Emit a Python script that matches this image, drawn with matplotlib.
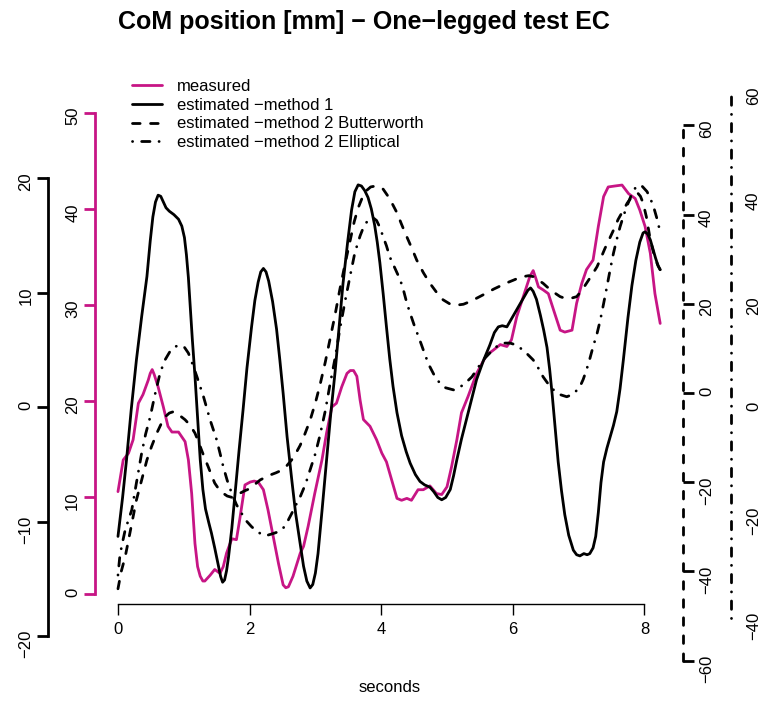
import matplotlib
matplotlib.use("Agg")
import matplotlib.pyplot as plt

plt.rcParams['font.family'] = ['Liberation Sans', 'DejaVu Sans']
plt.rcParams['lines.scale_dashes'] = False

# measured CoM position (left magenta axis, 0..50)
mag_t = [0.00, 0.08, 0.16, 0.23, 0.31, 0.38, 0.46, 0.49, 0.52, 0.55,
         0.61, 0.69, 0.76, 0.82, 0.92, 1.02, 1.07, 1.12, 1.17, 1.21,
         1.25, 1.29, 1.32, 1.40, 1.47, 1.55, 1.60, 1.65, 1.73, 1.80,
         1.85, 1.93, 2.01, 2.07, 2.13, 2.21, 2.28, 2.36, 2.44, 2.51,
         2.55, 2.59, 2.66, 2.77, 2.82, 2.89, 2.99, 3.10, 3.17, 3.25,
         3.32, 3.40, 3.48, 3.53, 3.58, 3.63, 3.68, 3.73, 3.83, 3.93,
         4.01, 4.08, 4.16, 4.24, 4.31, 4.39, 4.46, 4.56, 4.64, 4.74,
         4.84, 4.92, 5.00, 5.07, 5.15, 5.22, 5.32, 5.45, 5.60, 5.70,
         5.81, 5.91, 5.98, 6.06, 6.16, 6.26, 6.31, 6.35, 6.39, 6.46,
         6.54, 6.62, 6.72, 6.79, 6.90, 6.97, 7.05, 7.12, 7.22, 7.30,
         7.38, 7.45, 7.55, 7.66, 7.76, 7.86, 7.93, 8.01, 8.09, 8.16,
         8.24]
mag_v = [10.6, 13.9, 14.6, 16.0, 19.8, 20.7, 22.2, 22.9, 23.3, 22.8,
         21.5, 19.4, 17.4, 16.8, 16.8, 15.8, 13.9, 10.4, 5.2, 2.8,
         1.8, 1.3, 1.3, 1.9, 2.5, 2.1, 2.8, 4.2, 5.7, 5.6,
         7.7, 11.3, 11.6, 11.7, 11.6, 10.8, 8.7, 5.9, 3.1, 0.9,
         0.6, 0.7, 1.8, 4.2, 4.9, 7.0, 10.4, 13.9, 16.7, 19.4,
         19.8, 21.5, 22.9, 23.2, 23.2, 22.6, 20.1, 18.1, 17.4, 16.0,
         14.6, 13.7, 11.8, 9.9, 9.7, 9.9, 9.7, 10.8, 10.8, 11.2,
         10.4, 10.3, 11.1, 13.2, 16.0, 18.8, 20.5, 22.9, 24.8, 25.3,
         25.9, 25.7, 26.4, 28.8, 30.9, 33.0, 33.6, 32.8, 31.9, 31.6,
         31.2, 29.5, 27.4, 27.2, 27.4, 30.2, 32.3, 33.7, 34.7, 38.2,
         41.3, 42.3, 42.4, 42.5, 41.6, 41.1, 39.9, 38.2, 35.4, 31.2,
         28.1]

# estimated - method 1 (left black axis, -20..20)
m1_t = [0.00, 0.07, 0.13, 0.20, 0.28, 0.36, 0.44, 0.49, 0.53, 0.57,
        0.61, 0.65, 0.69, 0.73, 0.78, 0.85, 0.92, 0.97, 1.01, 1.04,
        1.07, 1.10, 1.13, 1.17, 1.21, 1.25, 1.29, 1.33, 1.38, 1.42,
        1.47, 1.52, 1.56, 1.59, 1.62, 1.65, 1.68, 1.73, 1.78, 1.84,
        1.90, 1.96, 2.03, 2.08, 2.13, 2.17, 2.21, 2.25, 2.29, 2.35,
        2.41, 2.46, 2.51, 2.57, 2.64, 2.70, 2.77, 2.82, 2.87, 2.92,
        2.96, 3.00, 3.04, 3.10, 3.17, 3.23, 3.30, 3.36, 3.42, 3.49,
        3.55, 3.60, 3.65, 3.70, 3.75, 3.80, 3.85, 3.90, 3.94, 3.98,
        4.03, 4.08, 4.13, 4.18, 4.24, 4.31, 4.38, 4.44, 4.52, 4.59,
        4.66, 4.74, 4.80, 4.86, 4.92, 4.98, 5.05, 5.10, 5.15, 5.22,
        5.30, 5.38, 5.45, 5.55, 5.65, 5.72, 5.78, 5.84, 5.91, 5.97,
        6.06, 6.16, 6.23, 6.27, 6.31, 6.36, 6.42, 6.47, 6.52, 6.56,
        6.60, 6.65, 6.69, 6.74, 6.79, 6.85, 6.92, 6.97, 7.02, 7.08,
        7.13, 7.17, 7.22, 7.26, 7.30, 7.34, 7.38, 7.43, 7.48, 7.53,
        7.58, 7.63, 7.68, 7.75, 7.81, 7.87, 7.93, 7.98, 8.01, 8.05,
        8.09, 8.13, 8.17, 8.21, 8.24]
m1_v = [-11.3, -7.9, -4.6, -0.3, 4.1, 7.9, 11.4, 14.5, 16.6, 17.9,
        18.5, 18.4, 17.9, 17.4, 17.1, 16.8, 16.4, 15.8, 14.8, 13.3,
        11.3, 8.6, 5.9, 2.7, -1.0, -4.6, -7.2, -8.9, -10.1, -11.0,
        -12.3, -13.7, -14.8, -15.3, -15.1, -14.3, -13.1, -10.6, -7.5, -3.8,
        -0.3, 3.4, 7.0, 9.3, 10.9, 11.8, 12.1, 11.8, 11.0, 9.2,
        6.8, 4.1, 1.2, -2.6, -6.3, -9.3, -12.0, -13.9, -15.2, -15.8,
        -15.5, -14.5, -12.8, -9.1, -4.6, -0.8, 3.1, 7.0, 10.8, 14.4,
        17.2, 18.8, 19.4, 19.3, 18.9, 18.3, 17.3, 15.9, 14.4, 12.6,
        9.9, 7.0, 4.2, 1.8, -0.5, -2.5, -3.9, -4.9, -5.9, -6.5,
        -6.8, -7.0, -7.4, -7.9, -8.1, -7.9, -7.2, -6.0, -4.6, -2.8,
        -1.0, 0.8, 2.4, 4.0, 5.4, 6.5, 7.0, 7.1, 7.0, 7.6,
        8.5, 9.5, 10.2, 10.4, 10.1, 9.4, 8.0, 6.7, 5.2, 3.3,
        1.0, -2.2, -4.8, -7.3, -9.4, -11.2, -12.5, -12.9, -13.0, -12.8,
        -12.9, -12.8, -12.3, -11.3, -9.2, -6.6, -4.8, -3.6, -2.6, -1.6,
        -0.4, 1.6, 4.1, 7.8, 10.6, 12.8, 14.4, 15.2, 15.3, 15.1,
        14.6, 13.8, 13.0, 12.3, 12.0]

# estimated - method 2 Butterworth (right dashed axis, -60..60)
bw_t = [0.00, 0.05, 0.11, 0.18, 0.28, 0.36, 0.44, 0.51, 0.59, 0.66,
        0.72, 0.78, 0.84, 0.90, 0.96, 1.02, 1.07, 1.12, 1.17, 1.22,
        1.27, 1.32, 1.37, 1.42, 1.47, 1.53, 1.60, 1.66, 1.73, 1.79,
        1.85, 1.93, 2.01, 2.08, 2.16, 2.24, 2.31, 2.40, 2.49, 2.56,
        2.64, 2.70, 2.77, 2.84, 2.92, 3.00, 3.07, 3.15, 3.22, 3.30,
        3.37, 3.45, 3.53, 3.59, 3.65, 3.71, 3.77, 3.84, 3.91, 3.97,
        4.03, 4.10, 4.17, 4.24, 4.31, 4.39, 4.47, 4.54, 4.64, 4.74,
        4.84, 4.94, 5.04, 5.15, 5.25, 5.35, 5.47, 5.60, 5.71, 5.81,
        5.91, 6.01, 6.09, 6.16, 6.24, 6.31, 6.40, 6.46, 6.52, 6.62,
        6.72, 6.78, 6.84, 6.90, 6.97, 7.04, 7.12, 7.20, 7.28, 7.34,
        7.40, 7.47, 7.53, 7.60, 7.68, 7.74, 7.81, 7.86, 7.90, 7.94,
        7.98, 8.03, 8.09, 8.13, 8.16, 8.20, 8.24]
bw_v = [-43.9, -40.0, -36.7, -31.5, -24.0, -19.5, -15.0, -12.0, -9.0, -6.8,
        -5.3, -4.5, -4.2, -4.5, -5.3, -6.0, -6.8, -7.8, -9.0, -10.8,
        -12.8, -14.7, -16.5, -18.4, -20.2, -21.5, -22.5, -23.1, -23.4, -23.1,
        -22.5, -21.9, -21.4, -20.5, -19.5, -18.9, -18.4, -17.9, -17.3, -16.4,
        -15.0, -13.6, -11.7, -9.2, -6.1, -2.2, 1.8, 6.9, 11.9, 17.6,
        23.1, 28.9, 34.3, 38.4, 41.5, 43.7, 45.3, 46.2, 46.4, 46.2,
        45.7, 44.2, 42.4, 40.4, 37.8, 35.0, 32.3, 29.8, 27.0, 24.6,
        22.6, 20.9, 20.0, 19.7, 19.9, 20.5, 21.4, 22.4, 23.3, 24.0,
        24.7, 25.3, 25.8, 26.1, 26.3, 26.1, 25.2, 24.6, 23.8, 22.6,
        21.6, 21.3, 21.2, 21.3, 21.6, 22.8, 24.6, 26.4, 28.3, 30.3,
        32.4, 34.6, 36.5, 38.9, 41.0, 42.6, 44.0, 44.6, 44.8, 44.1,
        42.6, 39.5, 34.3, 32.0, 30.3, 28.8, 27.6]

# estimated - method 2 Elliptical (right dot-dash axis, -40..60)
el_t = [0.00, 0.03, 0.07, 0.11, 0.16, 0.21, 0.28, 0.36, 0.42, 0.49,
        0.56, 0.64, 0.71, 0.79, 0.86, 0.94, 1.01, 1.07, 1.13, 1.20,
        1.25, 1.30, 1.35, 1.40, 1.45, 1.50, 1.55, 1.60, 1.66, 1.73,
        1.80, 1.88, 1.95, 2.03, 2.12, 2.21, 2.28, 2.36, 2.43, 2.49,
        2.54, 2.59, 2.64, 2.69, 2.77, 2.85, 2.92, 3.00, 3.07, 3.15,
        3.22, 3.30, 3.37, 3.45, 3.53, 3.60, 3.68, 3.73, 3.78, 3.83,
        3.88, 3.93, 3.98, 4.03, 4.08, 4.13, 4.21, 4.29, 4.34, 4.39,
        4.45, 4.51, 4.58, 4.64, 4.69, 4.74, 4.81, 4.89, 4.98, 5.10,
        5.19, 5.27, 5.33, 5.38, 5.47, 5.55, 5.65, 5.75, 5.86, 5.96,
        6.06, 6.19, 6.31, 6.39, 6.46, 6.54, 6.62, 6.72, 6.82, 6.92,
        7.02, 7.07, 7.12, 7.17, 7.22, 7.28, 7.33, 7.38, 7.43, 7.48,
        7.53, 7.58, 7.63, 7.68, 7.73, 7.80, 7.88, 7.96, 8.04, 8.09,
        8.14, 8.19, 8.24]
el_v = [-31.8, -28.0, -25.5, -23.2, -21.3, -19.4, -14.3, -8.6, -5.0, -1.7,
        2.4, 6.6, 9.0, 10.7, 11.6, 11.9, 11.5, 10.4, 8.4, 5.9,
        4.0, 2.1, -0.1, -2.3, -4.2, -6.1, -8.6, -11.2, -13.8, -16.3,
        -18.4, -20.1, -21.5, -22.6, -23.6, -24.2, -24.2, -23.9, -23.6, -23.2,
        -22.4, -21.3, -20.1, -18.8, -16.9, -14.5, -11.8, -8.7, -5.2, -0.6,
        4.3, 9.5, 14.8, 20.2, 25.2, 29.5, 32.7, 34.3, 35.3, 35.9,
        36.1, 35.6, 34.3, 32.5, 30.8, 28.7, 26.5, 24.3, 22.3, 19.9,
        17.6, 15.4, 13.1, 11.0, 9.3, 7.8, 6.1, 4.7, 3.8, 3.4,
        3.8, 4.7, 5.3, 5.9, 7.6, 9.1, 10.4, 11.6, 12.3, 12.3,
        11.9, 10.6, 9.1, 7.5, 5.9, 4.5, 3.4, 2.5, 2.1, 2.6,
        4.0, 5.4, 7.2, 9.3, 11.6, 14.1, 16.7, 19.8, 23.0, 26.3,
        29.4, 32.0, 34.4, 36.4, 38.2, 40.4, 42.2, 42.2, 41.1, 39.8,
        38.2, 36.0, 33.4]

labels = ["measured", "estimated \u2212method 1",
          "estimated \u2212method 2 Butterworth",
          "estimated \u2212method 2 Elliptical"]
x_ticks = [0, 2, 4, 6, 8]
mag_ticks = [0, 10, 20, 30, 40, 50]
m1_ticks = [-20, -10, 0, 10, 20]
bw_ticks = [-60, -40, -20, 0, 20, 40, 60]
el_ticks = [-40, -20, 0, 20, 40, 60]

MAG = '#C71585'
DASHED = (0, (5.5, 7.5))
DOTDASH = (0, (0.1, 6.5, 6.0, 6.5))
LW = 2.0

W, H = 761, 702
fig = plt.figure(figsize=(W / 100, H / 100), dpi=100)
# shared plot region (pixels): left, right, top, bottom
L, R, T, B = 96, 685, 70, 668
pos = [L / W, 1 - B / H, (R - L) / W, (B - T) / H]

ax_m = fig.add_axes(pos)
ax_b = fig.add_axes(pos, sharex=ax_m)
ax_d = fig.add_axes(pos, sharex=ax_m)
ax_e = fig.add_axes(pos, sharex=ax_m)

for a in (ax_m, ax_b, ax_d, ax_e):
    a.set_facecolor('none')
    for s in a.spines.values():
        s.set_visible(False)
    a.tick_params(axis='y', labelsize=12, labelrotation=90)

ax_m.set_xlim(-0.334, 8.617)
ax_m.set_ylim(-7.75, 54.47)
ax_b.set_ylim(-22.79, 29.43)
ax_d.set_ylim(-61.66, 72.42)
ax_e.set_ylim(-49.47, 64.22)

# curves
l_m, = ax_m.plot(mag_t, mag_v, color=MAG, lw=LW, solid_capstyle='round',
                 solid_joinstyle='round')
l_b, = ax_b.plot(m1_t, m1_v, color='black', lw=LW, solid_capstyle='round',
                 solid_joinstyle='round')
l_d, = ax_d.plot(bw_t, bw_v, color='black', lw=LW, linestyle=DASHED,
                 dash_capstyle='round')
l_e, = ax_e.plot(el_t, el_v, color='black', lw=LW, linestyle=DOTDASH,
                 dash_capstyle='round')

# x axis
sp = ax_m.spines['bottom']
sp.set_visible(True)
sp.set_position(('axes', (B - 604) / (B - T)))
sp.set_bounds(0, 8)
sp.set_linewidth(1.0)
ax_m.set_xticks(x_ticks)
ax_m.tick_params(axis='x', length=8, width=1.0, pad=5, labelsize=12)
for a in (ax_b, ax_d, ax_e):
    a.tick_params(axis='x', bottom=False, labelbottom=False)

# magenta axis (measured)
sp = ax_m.spines['left']
sp.set_visible(True)
sp.set_position(('axes', -0.002))
sp.set_bounds(0, 50)
sp.set_color(MAG)
sp.set_linewidth(LW)
ax_m.set_yticks(mag_ticks)
ax_m.tick_params(axis='y', colors=MAG, labelcolor='black', length=8,
                 width=LW, pad=2.5)

# black axis (method 1)
sp = ax_b.spines['left']
sp.set_visible(True)
sp.set_position(('axes', (48 - L) / (R - L)))
sp.set_bounds(-20, 20)
sp.set_linewidth(LW)
ax_b.set_yticks(m1_ticks)
ax_b.tick_params(axis='y', length=8, width=LW, pad=2.5)

# dashed axis (Butterworth)
ax_d.yaxis.tick_right()
sp = ax_d.spines['right']
sp.set_visible(True)
sp.set_position(('axes', (683 - L) / (R - L)))
sp.set_bounds(-60, 60)
sp.set_linewidth(LW)
sp.set_linestyle(DASHED)
sp.set_capstyle('round')
ax_d.set_yticks(bw_ticks)
ax_d.tick_params(axis='y', length=8, width=LW, pad=3.6)

# dot-dash axis (Elliptical)
ax_e.yaxis.tick_right()
sp = ax_e.spines['right']
sp.set_visible(True)
sp.set_position(('axes', (731 - L) / (R - L)))
sp.set_bounds(-40, 60)
sp.set_linewidth(LW)
sp.set_linestyle(DOTDASH)
sp.set_capstyle('round')
ax_e.set_yticks(el_ticks)
ax_e.tick_params(axis='y', length=0, pad=10.8)

fig.legend([l_m, l_b, l_d, l_e], labels, loc='upper left',
           bbox_to_anchor=(132 / W, 1 - 79 / H), frameon=False,
           borderpad=0, borderaxespad=0, handlelength=1.8,
           handletextpad=0.9, labelspacing=0.22, fontsize=12)

fig.text(364 / W, 1 - 22 / H, "CoM position [mm] \u2212 One\u2212legged test EC",
         ha='center', va='center', fontsize=18, fontweight='bold')
fig.text(390 / W, 1 - 688 / H, "seconds", ha='center', va='center', fontsize=12)

fig.savefig('out.png', dpi=100)
